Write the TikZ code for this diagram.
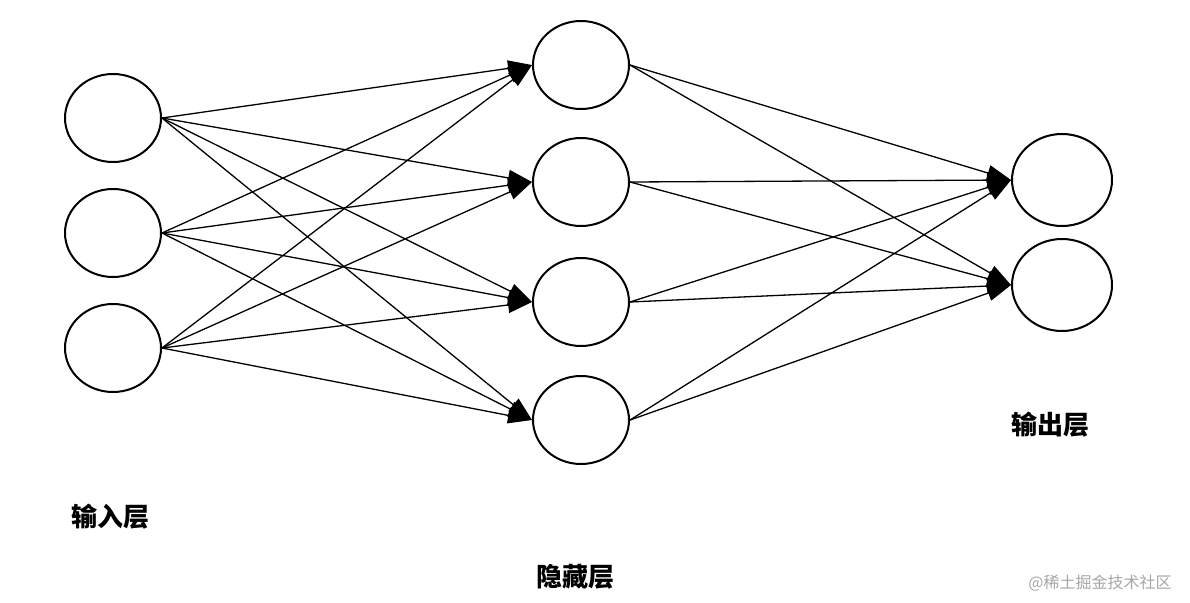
\documentclass[tikz,border=0pt]{standalone}
\usepackage{fontspec}
\newfontfamily\cjk{Noto Sans CJK SC}
\usetikzlibrary{shapes.geometric,arrows.meta}
\begin{document}
\begin{tikzpicture}[x=1pt,y=-1pt,
  neuron/.style={ellipse,draw,line width=2pt,minimum width=96pt,minimum height=88pt,inner sep=0pt},
  conn/.style={line width=1.3pt,-{Triangle[length=24pt,width=16pt]}},
  lbl/.style={font=\cjk\bfseries\fontsize{26pt}{30pt}\selectfont}]
\useasboundingbox (0,0) rectangle (1190,602);
\node[neuron] (i1) at (113,118) {};
\node[neuron] (i2) at (113,233) {};
\node[neuron] (i3) at (113,348) {};
\node[neuron] (h1) at (581,65) {};
\node[neuron] (h2) at (581,182) {};
\node[neuron] (h3) at (581,302) {};
\node[neuron] (h4) at (581,420) {};
\node[neuron,minimum width=100pt,minimum height=92pt] (o1) at (1062,180) {};
\node[neuron,minimum width=100pt,minimum height=92pt] (o2) at (1062,285) {};
\foreach \i in {1,2,3}{\foreach \h in {1,2,3,4}{\draw[conn] (i\i.east) -- (h\h.west);}}
\foreach \h in {1,2,3,4}{\foreach \o in {1,2}{\draw[conn] (h\h.east) -- (o\o.west);}}
\node[lbl] (li) at (110,517) {输入层};
\node[lbl] (lh) at (575,577) {隐藏层};
\node[lbl] (lo) at (1050,425) {输出层};
\node[font=\cjk\fontsize{16pt}{18pt}\selectfont,text=gray!70] (wm) at (1100,583) {@稀土掘金技术社区};
\end{tikzpicture}
\end{document}
